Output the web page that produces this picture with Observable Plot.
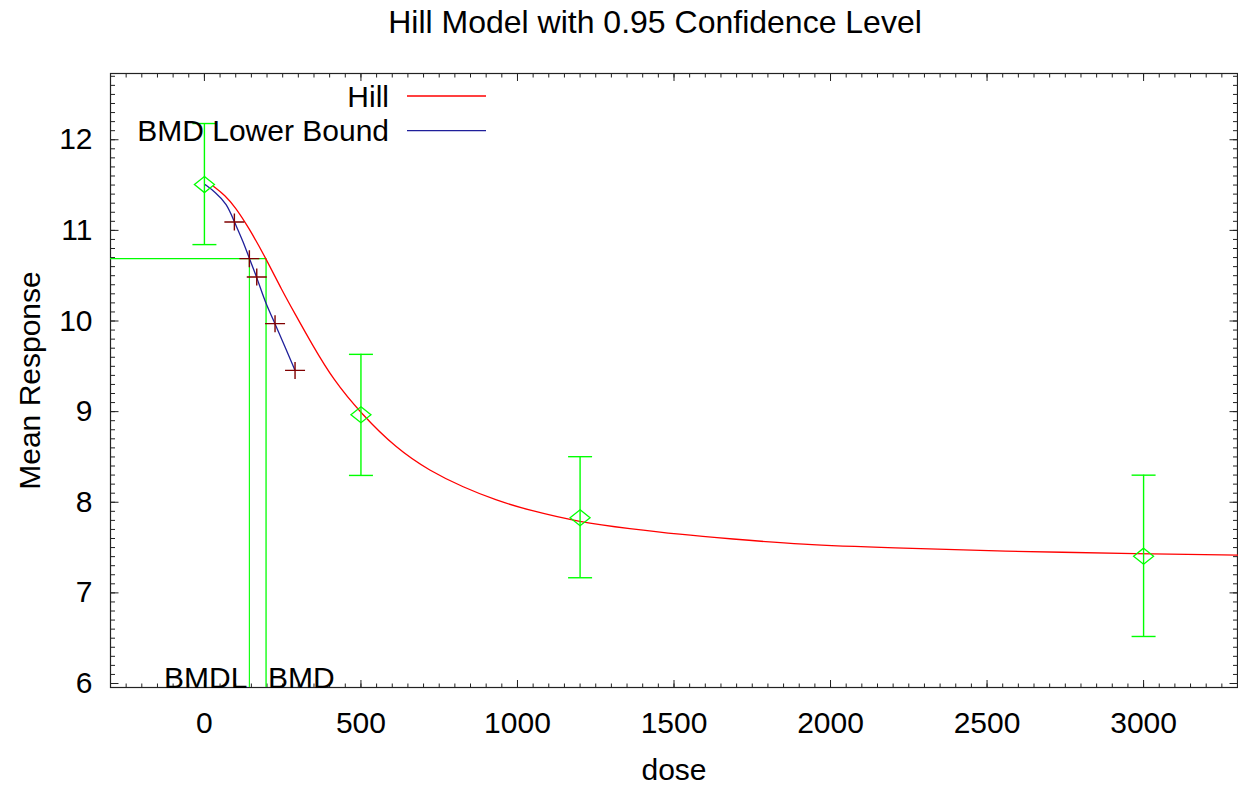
<!DOCTYPE html>
<html>
<head>
<meta charset="utf-8">
<script src="https://cdn.jsdelivr.net/npm/d3@7"></script>
<script src="https://cdn.jsdelivr.net/npm/@observablehq/plot@0.6"></script>
<style>
  body { margin: 0; background: #fff; }
  svg { display: block; }
</style>
</head>
<body>
<div id="chart"></div>
<script>
// ---------- data ----------
const titleText = "Hill Model with 0.95 Confidence Level";
const xLabel = "dose";
const yLabel = "Mean Response";

// observed group means with confidence limits
const doses = [0, 500, 1200, 3000];
const means = [11.505, 8.966, 7.829, 7.405];
const upper = [12.179, 9.632, 8.503, 8.299];
const lower = [10.843, 8.296, 7.167, 6.519];

// fitted Hill curve
const hillDose = [28.7, 66, 98, 140.4, 196.9, 247, 289.5, 342.8, 411.7, 500, 614, 720, 826.6, 933, 1039, 1199, 1359, 1518, 1678, 1901, 2200, 2539, 3000, 3300];
const hillResp = [11.487, 11.387, 11.258, 11.037, 10.688, 10.343, 10.078, 9.748, 9.350, 8.980, 8.590, 8.345, 8.165, 8.020, 7.910, 7.780, 7.708, 7.645, 7.597, 7.534, 7.495, 7.460, 7.432, 7.416];

// BMD lower bound curve
const lbDose = [2.2, 34.1, 71.5, 95.7, 124.5, 143.6, 167.2, 193.7, 225.6, 257.6, 289.5];
const lbResp = [11.505, 11.424, 11.296, 11.093, 10.872, 10.688, 10.485, 10.209, 9.971, 9.713, 9.455];

// lower bound markers
const crossDose = [95.7, 143.6, 167.2, 225.6, 289.5];
const crossResp = [11.093, 10.688, 10.485, 9.971, 9.455];

// benchmark dose
const bmd = 196.9;
const bmdl = 143.6;
const bmdResp = 10.688;

// ticks
const xMajorTicks = [0, 500, 1000, 1500, 2000, 2500, 3000];
const yMajorTicks = [6, 7, 8, 9, 10, 11, 12];
const legendLabels = ["Hill", "BMD Lower Bound"];

// ---------- styling ----------
const FONT = "'Liberation Sans', Arial, Helvetica, sans-serif";
const FS = 30;
const TITLE_FS = 32;
const GREEN = "#00ff00";
const RED = "#ff0000";
const BLUE = "#1f1f9a";
const DARKRED = "#800000";
const legendColors = [RED, BLUE];
const xDomain = [-300, 3300];
const yDomain = [5.956, 12.731];
const xMinorTicks = d3.range(-300, 3301, 50);
const yMinorTicks = d3.range(60, 128).map(v => v / 10);

// custom symbols
const sym = f => ({draw(ctx, size) { const s = Math.sqrt(size / Math.PI); f(ctx, s); }});
const diamond = sym((c, s) => { c.moveTo(0, -0.8 * s); c.lineTo(s, 0); c.lineTo(0, 0.8 * s); c.lineTo(-s, 0); c.closePath(); });
const capSym = sym((c, s) => { c.moveTo(-s, 0); c.lineTo(s, 0); });
const plusSym = sym((c, s) => { c.moveTo(-s, 0); c.lineTo(s, 0); c.moveTo(0, -0.85 * s); c.lineTo(0, 0.85 * s); });

const obs = doses.map((d, i) => ({dose: d, mean: means[i], lo: lower[i], hi: upper[i]}));
const hill = hillDose.map((d, i) => ({dose: d, resp: hillResp[i]}));
const lb = lbDose.map((d, i) => ({dose: d, resp: lbResp[i]}));
const crosses = crossDose.map((d, i) => ({dose: d, resp: crossResp[i]}));

function legendMark(index, scales, values, dims) {
  const g = d3.create("svg:g").attr("font-family", FONT).attr("font-size", FS);
  legendLabels.forEach((lab, i) => {
    const y = 96 + i * 34.7;
    g.append("text").attr("x", 389).attr("y", y).attr("dy", "0.35em")
      .attr("text-anchor", "end").attr("fill", "#000").text(lab);
    g.append("line").attr("x1", 407).attr("x2", 486).attr("y1", y).attr("y2", y)
      .attr("stroke", legendColors[i]).attr("stroke-width", 1.3);
  });
  return g.node();
}

const tickOpts = {tickFormat: () => "", stroke: "#222", label: null};

const chart = Plot.plot({
  width: 1238,
  height: 786,
  marginLeft: 110,
  marginRight: 1,
  marginTop: 73,
  marginBottom: 99,
  style: {fontFamily: FONT, fontSize: FS + "px", color: "#000", background: "#fff"},
  x: {domain: xDomain, axis: null},
  y: {domain: yDomain, axis: null},
  marks: [
    // ticks (inward, mirrored)
    Plot.axisX(xMinorTicks, {anchor: "bottom", tickSize: -3.5, ...tickOpts}),
    Plot.axisX(xMinorTicks, {anchor: "top", tickSize: -3.5, ...tickOpts}),
    Plot.axisX(xMajorTicks, {anchor: "bottom", tickSize: -7, ...tickOpts}),
    Plot.axisX(xMajorTicks, {anchor: "top", tickSize: -7, ...tickOpts}),
    Plot.axisY(yMinorTicks, {anchor: "left", tickSize: -5, ...tickOpts}),
    Plot.axisY(yMinorTicks, {anchor: "right", tickSize: -5, ...tickOpts}),
    Plot.axisY(yMajorTicks, {anchor: "left", tickSize: -8.5, ...tickOpts}),
    Plot.axisY(yMajorTicks, {anchor: "right", tickSize: -8.5, ...tickOpts}),
    // tick labels
    Plot.axisX(xMajorTicks, {anchor: "bottom", tickSize: 0, tickPadding: 24, fontSize: FS, tickFormat: d => String(d), label: null}),
    Plot.axisY(yMajorTicks, {anchor: "left", tickSize: 0, tickPadding: 18, fontSize: FS, tickFormat: d => String(d), label: null}),
    Plot.frame({stroke: "#222", strokeWidth: 1.2}),
    // BMD / BMDL reference lines
    Plot.ruleY([bmdResp], {x1: xDomain[0], x2: bmd, stroke: GREEN, strokeWidth: 1.3}),
    Plot.ruleX([bmd], {y1: yDomain[0], y2: bmdResp, stroke: GREEN, strokeWidth: 1.3}),
    Plot.ruleX([bmdl], {y1: yDomain[0], y2: bmdResp, stroke: GREEN, strokeWidth: 1.1}),
    Plot.text([bmdl], {x: d => d, frameAnchor: "bottom", text: () => "BMDL", textAnchor: "end", lineAnchor: "bottom", dx: -2, dy: 0, fontSize: FS, fill: "#000"}),
    Plot.text([bmd], {x: d => d, frameAnchor: "bottom", text: () => "BMD", textAnchor: "start", lineAnchor: "bottom", dx: 2, dy: 0, fontSize: FS, fill: "#000"}),
    // curves
    Plot.line(hill, {x: "dose", y: "resp", stroke: RED, strokeWidth: 1.3, curve: "basis"}),
    Plot.line(lb, {x: "dose", y: "resp", stroke: BLUE, strokeWidth: 1.3, curve: "basis"}),
    Plot.dot(crosses, {x: "dose", y: "resp", symbol: plusSym, r: 10, fill: "none", stroke: DARKRED, strokeWidth: 1.4}),
    // observations with error bars
    Plot.ruleX(obs, {x: "dose", y1: "lo", y2: "hi", stroke: GREEN, strokeWidth: 1.4}),
    Plot.dot(obs, {x: "dose", y: "hi", symbol: capSym, r: 12, fill: "none", stroke: GREEN, strokeWidth: 1.4}),
    Plot.dot(obs, {x: "dose", y: "lo", symbol: capSym, r: 12, fill: "none", stroke: GREEN, strokeWidth: 1.4}),
    Plot.dot(obs, {x: "dose", y: "mean", symbol: diamond, r: 10, fill: "none", stroke: GREEN, strokeWidth: 1.3}),
    // axis titles and title
    Plot.text([xLabel], {frameAnchor: "bottom", dy: 83, lineAnchor: "middle", fontSize: FS, fill: "#000"}),
    Plot.text([yLabel], {frameAnchor: "left", dx: -80, rotate: -90, textAnchor: "middle", lineAnchor: "middle", fontSize: FS, fill: "#000"}),
    Plot.text([titleText], {frameAnchor: "top", dx: -19, dy: -50.5, lineAnchor: "middle", fontSize: TITLE_FS, fill: "#000"}),
    // legend
    legendMark
  ]
});

document.getElementById("chart").appendChild(chart);
</script>
</body>
</html>
